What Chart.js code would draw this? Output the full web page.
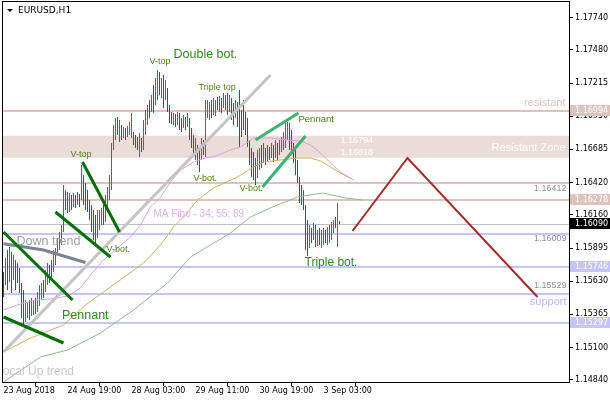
<!DOCTYPE html>
<html>
<head>
<meta charset="utf-8">
<script src="https://cdn.jsdelivr.net/npm/chart.js@4.4.0/dist/chart.umd.min.js"></script>
<style>
  html, body { margin: 0; padding: 0; background: #fff; }
  canvas { display: block; }
</style>
</head>
<body>
<canvas id="eurusd" width="610" height="400"></canvas>
<script>
// EURUSD H1 - bars van 23 aug tot 3 sep
const highs = [
  1.15704, 1.15816, 1.15880, 1.15904, 1.15864, 1.15840, 1.15800, 1.15776, 1.15736, 1.15616,
  1.15560, 1.15480, 1.15464, 1.15480, 1.15496, 1.15480, 1.15496, 1.15544, 1.15600, 1.15616,
  1.15640, 1.15720, 1.15776, 1.15760, 1.15800, 1.15880, 1.15896, 1.15976, 1.16024, 1.16080,
  1.16400, 1.16360, 1.16344, 1.16336, 1.16320, 1.16336, 1.16320, 1.16344, 1.16328, 1.16560,
  1.16480, 1.16416, 1.16360, 1.16280, 1.16240, 1.16200, 1.16160, 1.16200, 1.16200, 1.16216,
  1.16240, 1.16320, 1.16384, 1.16480, 1.16736, 1.16880, 1.16936, 1.16944, 1.16920, 1.16880,
  1.16864, 1.16856, 1.16872, 1.16904, 1.16976, 1.16824, 1.16800, 1.16784, 1.16816, 1.16776,
  1.16920, 1.17000, 1.17040, 1.17080, 1.17120, 1.17200, 1.17256, 1.17320, 1.17304, 1.17256,
  1.17280, 1.17240, 1.17176, 1.17040, 1.16984, 1.16976, 1.16968, 1.16984, 1.16976, 1.16936,
  1.16960, 1.16944, 1.16976, 1.16936, 1.16856, 1.16800, 1.16776, 1.16720, 1.16680, 1.16776,
  1.16760, 1.17080, 1.17080, 1.17064, 1.17080, 1.17096, 1.17080, 1.17104, 1.17112, 1.17096,
  1.17136, 1.17120, 1.17136, 1.17120, 1.17096, 1.17056, 1.17080, 1.17064, 1.17160, 1.17000,
  1.17080, 1.16984, 1.16936, 1.16760, 1.16696, 1.16664, 1.16616, 1.16680, 1.16696, 1.16720,
  1.16736, 1.16696, 1.16720, 1.16704, 1.16736, 1.16720, 1.16760, 1.16736, 1.16760, 1.16784,
  1.16824, 1.16896, 1.16904, 1.16896, 1.16840, 1.16736, 1.16680, 1.16600, 1.16464, 1.16400,
  1.16360, 1.16240, 1.16120, 1.16080, 1.16056, 1.16096, 1.16080, 1.16040, 1.16056, 1.16040,
  1.16056, 1.16040, 1.16064, 1.16080, 1.16104, 1.16120, 1.16144, 1.16256, 1.16112
];
const lows = [
  1.15504, 1.15600, 1.15560, 1.15624, 1.15536, 1.15640, 1.15560, 1.15616, 1.15536, 1.15336,
  1.15288, 1.15304, 1.15336, 1.15320, 1.15352, 1.15360, 1.15368, 1.15384, 1.15432, 1.15480,
  1.15496, 1.15544, 1.15600, 1.15616, 1.15640, 1.15704, 1.15760, 1.15840, 1.15880, 1.15920,
  1.16024, 1.16200, 1.16176, 1.16184, 1.16200, 1.16224, 1.16216, 1.16240, 1.16224, 1.16280,
  1.16240, 1.16200, 1.16184, 1.16120, 1.16024, 1.15960, 1.15936, 1.15976, 1.16040, 1.16080,
  1.16080, 1.16104, 1.16200, 1.16280, 1.16360, 1.16680, 1.16760, 1.16800, 1.16744, 1.16760,
  1.16776, 1.16760, 1.16784, 1.16800, 1.16776, 1.16720, 1.16696, 1.16680, 1.16624, 1.16664,
  1.16680, 1.16800, 1.16880, 1.16936, 1.16984, 1.16976, 1.17040, 1.17080, 1.17120, 1.17096,
  1.17016, 1.17080, 1.16984, 1.16896, 1.16888, 1.16880, 1.16864, 1.16880, 1.16840, 1.16824,
  1.16856, 1.16840, 1.16864, 1.16760, 1.16696, 1.16640, 1.16600, 1.16560, 1.16504, 1.16600,
  1.16640, 1.16624, 1.16936, 1.16920, 1.16936, 1.16960, 1.16952, 1.17000, 1.16984, 1.16976,
  1.17016, 1.17000, 1.16960, 1.16984, 1.16920, 1.16880, 1.16936, 1.16864, 1.16704, 1.16784,
  1.16840, 1.16800, 1.16704, 1.16560, 1.16464, 1.16440, 1.16400, 1.16456, 1.16520, 1.16536,
  1.16576, 1.16560, 1.16584, 1.16600, 1.16616, 1.16584, 1.16616, 1.16600, 1.16640, 1.16664,
  1.16680, 1.16696, 1.16760, 1.16680, 1.16656, 1.16576, 1.16480, 1.16416, 1.16256, 1.16240,
  1.16200, 1.15880, 1.15832, 1.15896, 1.15936, 1.15960, 1.15904, 1.15912, 1.15920, 1.15896,
  1.15920, 1.15936, 1.15920, 1.15936, 1.15960, 1.16016, 1.16056, 1.15904, 1.16088
];
// 1 = stijgende bar (teal), 0 = dalende bar (rood)
const bull = [
  0,1,0,1,0,1,0,0,0,0, 0,1,1,0,1,1,0,1,1,1, 0,1,1,0,0,1,1,1,1,1, 1,0,0,1,0,1,0,1,0,1,
  0,0,0,0,0,0,0,1,1,1, 0,1,1,1,1,1,1,0,1,0, 1,0,1,1,1,0,0,0,1,0, 1,1,1,0,1,0,1,1,0,1,
  0,1,0,0,0,1,0,1,0,0, 1,0,1,0,0,0,1,0,0,1, 0,1,1,1,0,1,1,0,1,0, 1,0,0,1,0,0,1,0,0,0,
  0,0,0,0,0,0,0,1,1,0, 1,0,1,0,1,0,1,0,1,1, 1,1,1,0,0,0,0,0,0,0, 0,0,0,1,0,1,0,1,0,1,
  1,0,1,1,1,1,0,1,0
];

const xTickIdx = [0, 32, 64, 96, 128, 160];
const xTickLabels = ['23 Aug 2018', '24 Aug 19:00', '28 Aug 03:00', '29 Aug 11:00', '30 Aug 19:00', '3 Sep 03:00'];
const yTicks = [1.17740, 1.17480, 1.17215, 1.16950, 1.16685, 1.16420, 1.16160, 1.15895, 1.15630, 1.15365, 1.15100, 1.14840];

// MA Fibo 34 / 55 / 89 [bar, koers]
const ma34 = [[0,1.15400],[8.5,1.15448],[16,1.15480],[23.5,1.15488],[32,1.15512],[38.5,1.15576],[43.5,1.15680],
  [50,1.15800],[57,1.15896],[63.5,1.15984],[68.5,1.16080],[73.5,1.16224],[78.5,1.16304],[83.5,1.16424],
  [88.5,1.16520],[95,1.16584],[101,1.16616],[106,1.16632],[113.5,1.16680],[118.5,1.16704],[125,1.16776],
  [133.5,1.16776],[142,1.16760],[148.5,1.16752],[153.5,1.16720],[158.5,1.16656],[163.5,1.16576],[168.5,1.16504],[175,1.16440]];
const ma55 = [[0,1.15064],[13.5,1.15176],[30,1.15280],[41,1.15440],[53.5,1.15584],[70,1.15776],[78.5,1.15920],
  [85,1.16064],[91,1.16160],[97,1.16280],[105,1.16376],[117,1.16464],[125,1.16544],[130,1.16584],[138.5,1.16600],
  [147,1.16616],[153.5,1.16616],[158.5,1.16592],[163.5,1.16544],[168.5,1.16496],[175,1.16440]];
const ma89 = [[0,1.14824],[18.5,1.15024],[32,1.15080],[48.5,1.15216],[65,1.15400],[82,1.15616],[93.5,1.15824],
  [103.5,1.15920],[113.5,1.16016],[123.5,1.16144],[134.5,1.16224],[147,1.16304],[159.5,1.16336],[171,1.16296],[180,1.16280]];

// getekende lijnen [bar, koers]
const upTrend = [[0,1.15064],[133.5,1.17280]];
const downTrend = [[0,1.15930],[20,1.15880],[41,1.15780]];
const greenLines = [
  [[0,1.16024],[34.5,1.15480]],
  [[0,1.15344],[30,1.15136]],
  [[26,1.16184],[53.5,1.15824]],
  [[39.5,1.16584],[58,1.16024]]
];
const pennantLines = [
  [[126,1.16760],[147.5,1.16976]],
  [[129.5,1.16384],[151,1.16792]]
];
const forecast = [[174.5,1.16032],[202,1.16616],[267,1.15504]];

const zone = [1.16618, 1.16794];
const resistLevels = [1.16994, 1.16412, 1.16278];
const supportLevels = [1.16009, 1.15746, 1.15529, 1.15297];
const lastPrice = 1.16090;
const priceBoxes = [[1.16994, '#dcc4bc'], [1.16278, '#dcc4bc'], [1.16090, '#000000'], [1.15746, '#c4c4f6'], [1.15297, '#c4c4f6']];

const G1 = '#2d8b1e';
const G2 = '#4b7f12';
const notes = [
  {t: 'Double bot.', x: 85, y: 1.17440, c: G1, s: 12.5},
  {t: 'V-top', x: 73, y: 1.17384, c: G2, s: 9},
  {t: 'Triple top', x: 97.5, y: 1.17176, c: G2, s: 9},
  {t: 'Pennant', x: 147.5, y: 1.16928, c: G2, s: 9.5},
  {t: 'V-top', x: 33.5, y: 1.16640, c: G2, s: 9},
  {t: 'V-bot.', x: 95, y: 1.16448, c: G2, s: 9},
  {t: 'V-bot.', x: 118, y: 1.16368, c: G2, s: 9},
  {t: 'V-bot.', x: 51.5, y: 1.15880, c: G2, s: 9},
  {t: 'Down trend', x: 6.5, y: 1.15944, c: '#98a0b0', s: 12.5},
  {t: 'MA Fibo - 34; 55; 89', x: 75, y: 1.16168, c: '#e4aee4', s: 10},
  {t: 'Triple bot.', x: 150.5, y: 1.15776, c: G1, s: 12},
  {t: 'Pennant', x: 29.25, y: 1.15352, c: G1, s: 12.5},
  {t: 'Local Up trend', x: -3.75, y: 1.14904, c: '#c8c8c8', s: 12},
  {t: 'resistant', x: 281, y: 1.17060, c: '#dcc4bc', s: 11, a: 'right'},
  {t: 'Resistant Zone', x: 281, y: 1.16700, c: '#ffffff', s: 11, a: 'right'},
  {t: '1.16794', x: 168.5, y: 1.16752, c: '#ffffff', s: 9},
  {t: '1.16618', x: 168.5, y: 1.16656, c: '#ffffff', s: 9},
  {t: '1.16412', x: 281.5, y: 1.16368, c: '#8890a0', s: 9, a: 'right'},
  {t: '1.16009', x: 281.5, y: 1.15968, c: '#8890a0', s: 9, a: 'right'},
  {t: '1.15529', x: 281.5, y: 1.15592, c: '#8890a0', s: 9, a: 'right'},
  {t: 'support', x: 281.5, y: 1.15464, c: '#b8b8f0', s: 11, a: 'right'}
];

const pts = arr => arr.map(([x, y]) => ({x, y}));
const lineSet = (arr, color, width, order) => ({
  type: 'line', data: pts(arr), borderColor: color, borderWidth: width,
  pointRadius: 0, tension: 0, fill: false, order: order
});

const datasets = [];
datasets.push(lineSet(forecast, '#a52a2a', 2, 0));
pennantLines.forEach(l => datasets.push(lineSet(l, '#3cb371', 3, 1)));
greenLines.forEach(l => datasets.push(lineSet(l, '#007000', 3, 1)));
datasets.push(lineSet(downTrend, '#7a8594', 3, 2));
datasets.push(lineSet(upTrend, '#c4c4c4', 3, 2));
datasets.push(lineSet(ma34, '#dda0dd', 1, 4));
datasets.push(lineSet(ma55, '#c8b464', 1, 4));
datasets.push(lineSet(ma89, '#8fbc8f', 1, 4));
datasets.push({
  type: 'bar',
  data: highs.map((h, i) => ({x: i, y: [lows[i], h]})),
  backgroundColor: bull.map(b => b ? '#0e8585' : '#ff0000'),
  borderWidth: 0,
  barThickness: 1,
  inflateAmount: 0,
  order: 6
});

const AXIS_FONT = {family: 'DejaVu Sans', size: 8};

// zone, niveaus, teksten, rand en prijslabels
const decor = {
  id: 'decor',
  beforeDatasetsDraw(chart) {
    const {ctx, chartArea: a, scales: {y}} = chart;
    ctx.save();
    const t = y.getPixelForValue(zone[1]), b = y.getPixelForValue(zone[0]);
    ctx.fillStyle = '#ecdcd8';
    ctx.fillRect(a.left, t, a.width, b - t);
    ctx.fillStyle = '#dcc4bc';
    resistLevels.forEach(v => {
      const p = Math.round(y.getPixelForValue(v));
      ctx.fillRect(a.left, p - 1, a.width, 2);
    });
    ctx.fillStyle = '#c4c4f6';
    supportLevels.forEach(v => {
      const p = Math.round(y.getPixelForValue(v));
      ctx.fillRect(a.left, p - 1, a.width, 2);
    });
    ctx.fillStyle = '#c0c0c0';
    ctx.fillRect(a.left, Math.round(y.getPixelForValue(lastPrice)), a.width, 1);
    ctx.restore();
  },
  afterDatasetsDraw(chart) {
    const {ctx, chartArea: a, scales: {x, y}} = chart;
    ctx.save();
    ctx.beginPath();
    ctx.rect(a.left, a.top, a.width, a.height);
    ctx.clip();
    ctx.textBaseline = 'middle';
    notes.forEach(n => {
      ctx.font = n.s + 'px "Liberation Sans", Arial, sans-serif';
      ctx.fillStyle = n.c;
      ctx.textAlign = n.a || 'left';
      ctx.fillText(n.t, x.getPixelForValue(n.x), y.getPixelForValue(n.y));
    });
    ctx.restore();
  },
  afterDraw(chart) {
    const {ctx, chartArea: a, scales: {y}} = chart;
    ctx.save();
    ctx.strokeStyle = '#000';
    ctx.lineWidth = 1;
    ctx.strokeRect(a.left - 0.5, a.top - 0.5, a.width + 1, a.height + 1);
    ctx.font = '8px "DejaVu Sans"';
    ctx.textBaseline = 'middle';
    ctx.textAlign = 'left';
    priceBoxes.forEach(([v, c]) => {
      const p = Math.round(y.getPixelForValue(v));
      ctx.fillStyle = c;
      ctx.fillRect(a.right + 1, p - 6, 40, 11);
      ctx.fillStyle = '#fff';
      ctx.fillText(v.toFixed(5), a.right + 6, p);
    });
    // titel linksboven
    ctx.fillStyle = '#000';
    ctx.beginPath();
    ctx.moveTo(7, 9); ctx.lineTo(13, 9); ctx.lineTo(10, 12); ctx.closePath();
    ctx.fill();
    ctx.font = '9px "DejaVu Sans"';
    ctx.fillText('EURUSD,H1', 18, 10.5);
    ctx.restore();
  }
};

const config = {
  type: 'bar',
  data: {datasets: datasets},
  options: {
    responsive: false,
    animation: false,
    events: [],
    layout: {padding: {left: 3, top: 2, right: 0, bottom: 0}},
    plugins: {legend: {display: false}, tooltip: {enabled: false}},
    scales: {
      x: {
        type: 'linear', min: -0.25, max: 282.75, offset: false,
        grid: {drawOnChartArea: false, tickLength: 4, color: '#000'},
        border: {display: false},
        ticks: {autoSkip: false, maxRotation: 0, align: 'start', padding: 0, color: '#000', font: AXIS_FONT,
          callback: (v, i) => xTickLabels[i]},
        afterBuildTicks: s => { s.ticks = xTickIdx.map(v => ({value: v})); },
        afterFit: s => { s.height = 18; s.paddingLeft = 0; s.paddingRight = 0; }
      },
      y: {
        type: 'linear', position: 'right', min: 1.14824, max: 1.17864,
        grid: {drawOnChartArea: false, tickLength: 4, color: '#000'},
        border: {display: false},
        ticks: {padding: 2, color: '#000', font: AXIS_FONT, callback: v => v.toFixed(5)},
        afterBuildTicks: s => { s.ticks = yTicks.map(v => ({value: v})); },
        afterFit: s => { s.width = 41; s.paddingTop = 0; s.paddingBottom = 0; }
      }
    }
  },
  plugins: [decor]
};

const eurChart = new Chart(document.getElementById('eurusd'), config);
</script>
</body>
</html>
